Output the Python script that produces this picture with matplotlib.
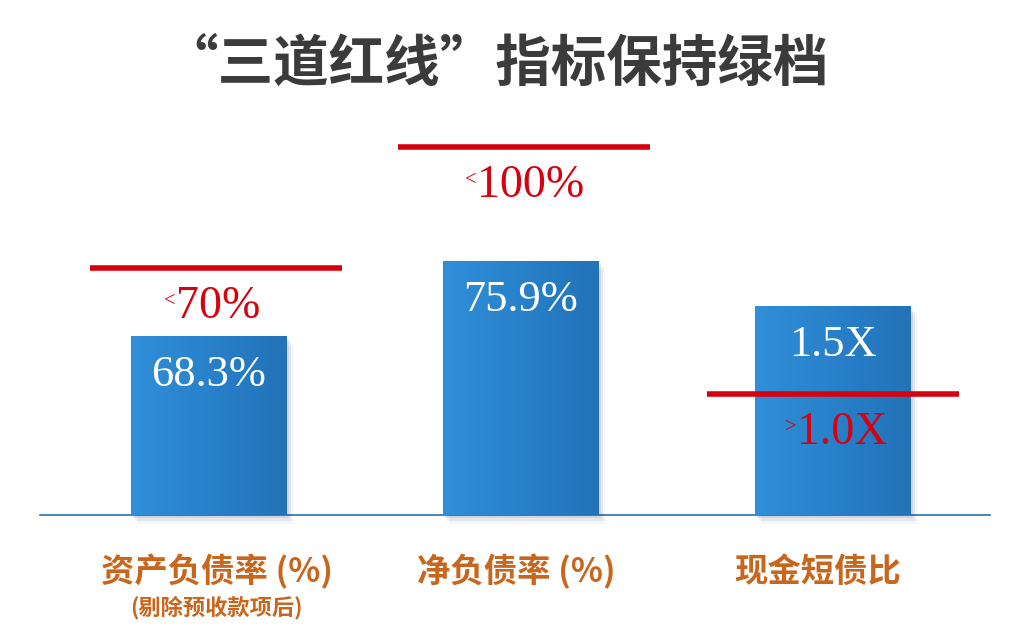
import matplotlib
matplotlib.use("Agg")
import matplotlib.pyplot as plt
import numpy as np
from matplotlib.patches import Rectangle
from matplotlib.colors import LinearSegmentedColormap

# ---- data ----
categories = ["资产负债率 (%)", "净负债率 (%)", "现金短债比"]
sub_labels = ["(剔除预收款项后)", "", ""]
value_labels = ["68.3%", "75.9%", "1.5X"]
threshold_signs = ["<", "<", ">"]
threshold_labels = ["70%", "100%", "1.0X"]
# drawn (schematic) heights of the bars and red threshold lines, as shown in the picture
bar_heights = [179, 254, 209]
threshold_heights = [247, 368, 121]
title = "“三道红线”指标保持绿档"

# ---- style ----
CJK = ["Noto Sans CJK SC", "DejaVu Sans"]
SERIF = ["Liberation Serif", "DejaVu Serif"]
RED = "#d7000f"
ORANGE = "#c8661e"
TITLE_C = "#3b3b3b"

fig = plt.figure(figsize=(10.31, 6.32), dpi=100)
fig.patch.set_facecolor("white")
ax = fig.add_axes([0, 0, 1, 1])
ax.set_xlim(-0.670, 2.635)
ax.set_ylim(-117, 515)
ax.axis("off")

x = np.arange(len(categories))
bar_w = 0.5
line_w = 0.808
line_nudge = [0.022, 0.01, 0.0]

cmap = LinearSegmentedColormap.from_list(
    "barblue", ["#318ed9", "#2b86cf", "#267cc4", "#2373b8"])
grad = np.linspace(0, 1, 256).reshape(1, -1)

# baseline
ax.plot([-0.542, 2.503], [0, 0], color="#2a6fb0", lw=1.2, zorder=1)

for i, xi in enumerate(x):
    h = bar_heights[i]
    # soft shadow
    for k, a in enumerate([0.10, 0.07, 0.04]):
        off = 0.006 * (k + 1)
        ax.add_patch(Rectangle((xi - bar_w / 2 + off, -3 * (k + 1)), bar_w, h,
                               color="#1a2a66", alpha=a, lw=0, zorder=2))
    ax.imshow(grad, cmap=cmap, aspect="auto", zorder=3,
              extent=[xi - bar_w / 2, xi + bar_w / 2, 0, h], interpolation="bilinear")
    # value label inside bar
    ax.text(xi, h - 39, value_labels[i], ha="center", va="center", color="white",
            fontsize=32, family=SERIF, zorder=6)
    # threshold line
    th = threshold_heights[i]
    lx = xi + line_nudge[i]
    ax.plot([lx - line_w / 2, lx + line_w / 2], [th, th], color=RED, lw=4.0,
            solid_capstyle="butt", zorder=5)
    t = ax.text(xi + 0.03, th - 39, threshold_labels[i], ha="center", va="center",
                color=RED, fontsize=33, family=SERIF, zorder=6)
    ax.annotate(threshold_signs[i], xy=(0, 0.62), xycoords=t, ha="right", va="center",
                color=RED, fontsize=15, family=SERIF, zorder=6)

label_nudge = [0.025, -0.015, -0.048]
for i, xi in enumerate(x):
    ax.text(xi + label_nudge[i], -57, categories[i], ha="center", va="center",
            color=ORANGE, fontsize=24, fontweight="bold", family=CJK)
    if sub_labels[i]:
        ax.text(xi + label_nudge[i], -93, sub_labels[i], ha="center", va="center",
                color=ORANGE, fontsize=16, fontweight="bold", family=CJK)

fig.text(0.481, 1 - 65 / 632, title, ha="center", va="center", color=TITLE_C,
         fontsize=40, fontweight="bold", family=CJK)

fig.savefig("out.png", dpi=100, facecolor="white")
